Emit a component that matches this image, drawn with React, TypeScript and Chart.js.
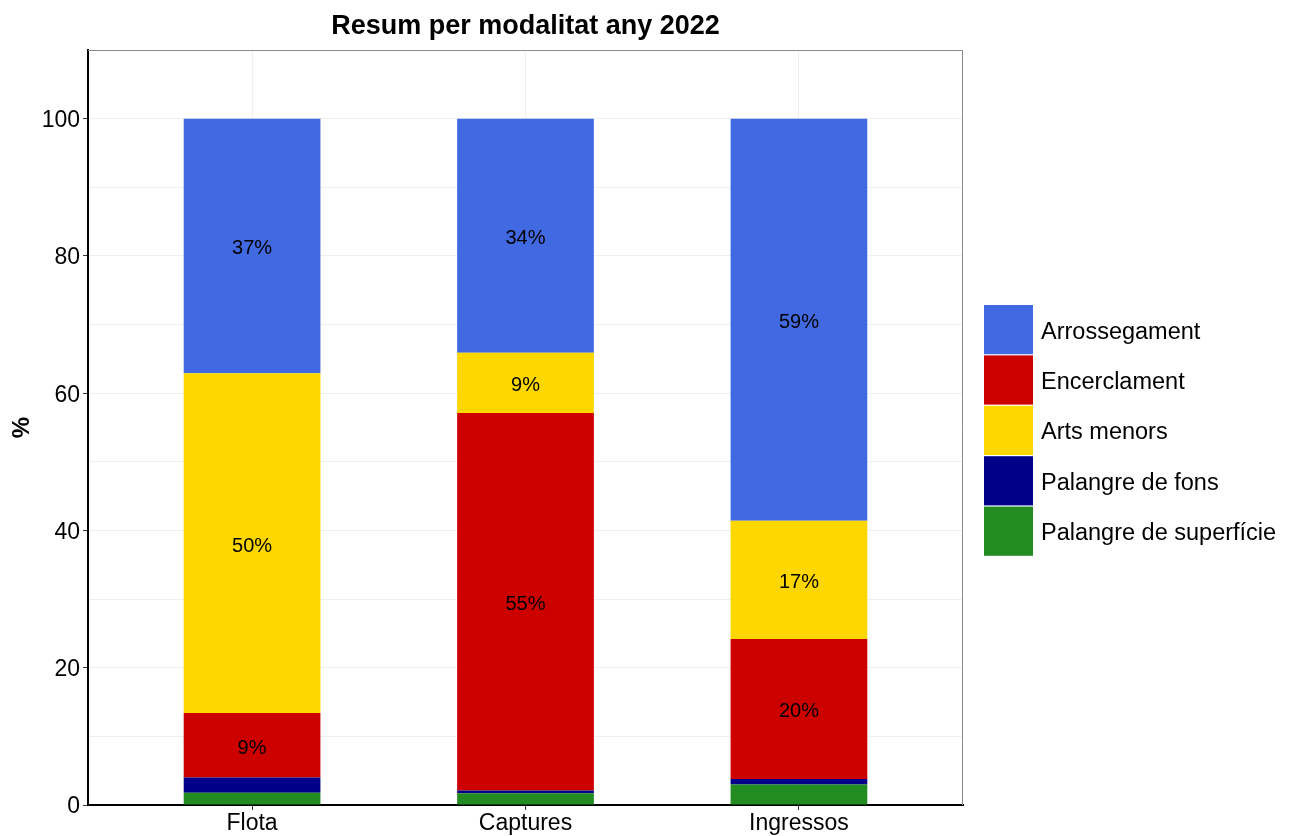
import React, { useEffect, useRef } from "react";
import { Chart, registerables } from "chart.js";

Chart.register(...registerables);

const categories = ["Flota", "Captures", "Ingressos"];
const seriesNames = [
  "Palangre de superfície",
  "Palangre de fons",
  "Encerclament",
  "Arts menors",
  "Arrossegament",
];
const seriesColors = ["#228B22", "#00008B", "#CD0000", "#FFD700", "#4169E1"];
const legendOrder = [
  "Arrossegament",
  "Encerclament",
  "Arts menors",
  "Palangre de fons",
  "Palangre de superfície",
];
const palangreSuperficie = [1.8, 1.7, 3.0];
const palangreFons = [2.2, 0.4, 0.8];
const encerclament = [9.4, 55.0, 20.4];
const artsMenors = [49.5, 8.8, 17.2];
const arrossegament = [37.1, 34.1, 58.6];
const seriesValues = [palangreSuperficie, palangreFons, encerclament, artsMenors, arrossegament];
const yTicks = [0, 20, 40, 60, 80, 100];
const titleText = "Resum per modalitat any 2022";
const yTitle = "%";

const FONT = "'Liberation Sans', Arial, sans-serif";

export default function App() {
  const ref = useRef<HTMLCanvasElement | null>(null);

  useEffect(() => {
    if (!ref.current) return;

    const decor = {
      id: "decor",
      beforeDatasetsDraw(chart: any) {
        const { ctx, chartArea: a } = chart;
        ctx.save();
        ctx.strokeStyle = "#8a8a8a";
        ctx.lineWidth = 1;
        ctx.beginPath();
        ctx.moveTo(a.left, a.top + 0.5);
        ctx.lineTo(a.right - 0.5, a.top + 0.5);
        ctx.lineTo(a.right - 0.5, a.bottom);
        ctx.stroke();
        ctx.restore();
      },
      afterDatasetsDraw(chart: any) {
        const { ctx } = chart;
        ctx.save();
        ctx.fillStyle = "#000";
        ctx.font = `20px ${FONT}`;
        ctx.textAlign = "center";
        ctx.textBaseline = "middle";
        chart.data.datasets.forEach((ds: any, di: number) => {
          const meta = chart.getDatasetMeta(di);
          meta.data.forEach((el: any, i: number) => {
            const v = seriesValues[di][i];
            if (v < 5) return;
            const p = el.getProps(["x", "y", "base"], true);
            ctx.fillText(Math.round(v) + "%", p.x, (p.y + p.base) / 2 + 3);
          });
        });
        ctx.restore();
      },
      afterDraw(chart: any) {
        const { ctx, chartArea: a } = chart;
        ctx.save();
        // title
        ctx.fillStyle = "#000";
        ctx.font = `bold 27px ${FONT}`;
        ctx.textAlign = "center";
        ctx.textBaseline = "middle";
        ctx.fillText(titleText, (a.left + a.right) / 2, 27);
        // legend
        const n = legendOrder.length;
        const rowH = 50.4;
        const boxW = 49;
        const lx = a.right + 21;
        const ly = (a.top + a.bottom) / 2 + 3.5 - (n * rowH) / 2;
        ctx.font = `23.5px ${FONT}`;
        ctx.textAlign = "left";
        for (let k = 0; k < n; k++) {
          const di = seriesNames.indexOf(legendOrder[k]);
          const y0 = ly + k * rowH;
          ctx.fillStyle = seriesColors[di];
          ctx.fillRect(lx, y0, boxW, rowH - 1.2);
          ctx.fillStyle = "#000";
          ctx.fillText(seriesNames[di], lx + boxW + 8, y0 + rowH / 2 + 2);
        }
        ctx.restore();
      },
    };

    const chart = new Chart(ref.current, {
      type: "bar",
      data: {
        datasets: seriesNames.map((name, di) => ({
          label: name,
          data: seriesValues[di].map((v, i) => ({ x: i + 1, y: v })),
          backgroundColor: seriesColors[di],
          borderWidth: 0,
          categoryPercentage: 1,
          barPercentage: 0.5,
        })),
      },
      options: {
        animation: false,
        responsive: true,
        maintainAspectRatio: false,
        layout: { padding: { top: 50, right: 327, left: 0, bottom: 0 } },
        plugins: {
          legend: { display: false },
          title: { display: false },
          tooltip: { enabled: false },
        },
        scales: {
          x: {
            type: "linear",
            min: 0.4,
            max: 3.6,
            offset: false,
            stacked: true,
            afterBuildTicks(scale: any) {
              scale.ticks = categories.map((_, i) => ({ value: i + 1 }));
            },
            afterFit(scale: any) {
              scale.height = 31;
            },
            ticks: {
              autoSkip: false,
              maxRotation: 0,
              padding: 0,
              color: "#000",
              font: { family: FONT, size: 23 },
              callback: (v: any) => categories[Math.round(Number(v)) - 1] ?? "",
            },
            grid: {
              offset: false,
              color: "#efefef",
              lineWidth: 1,
              tickLength: 5,
              tickColor: "#333",
            },
            border: { color: "#000", width: 2 },
          },
          y: {
            type: "linear",
            min: 0,
            max: 110,
            stacked: true,
            afterBuildTicks(scale: any) {
              const t: any[] = [];
              for (let v = 0; v <= 110; v += 10) t.push({ value: v });
              scale.ticks = t;
            },
            afterFit(scale: any) {
              scale.width = 88;
            },
            ticks: {
              padding: 3,
              labelOffset: 2,
              color: "#000",
              font: { family: FONT, size: 23 },
              callback: (v: any) => (yTicks.includes(Number(v)) ? String(v) : ""),
            },
            grid: {
              color: "#efefef",
              lineWidth: 1,
              tickLength: 5,
              tickColor: (c: any) => (yTicks.includes(c.tick?.value) ? "#333" : "rgba(0,0,0,0)"),
            },
            border: { color: "#000", width: 2 },
            title: {
              display: true,
              text: yTitle,
              color: "#000",
              font: { family: FONT, size: 24, weight: "bold" },
              padding: { top: 8, bottom: 0 },
            },
          },
        },
      },
      plugins: [decor],
    } as any);

    return () => chart.destroy();
  }, []);

  return (
    <div style={{ position: "absolute", left: 0, top: 0, width: 1290, height: 836, background: "#fff" }}>
      <canvas ref={ref} />
    </div>
  );
}
